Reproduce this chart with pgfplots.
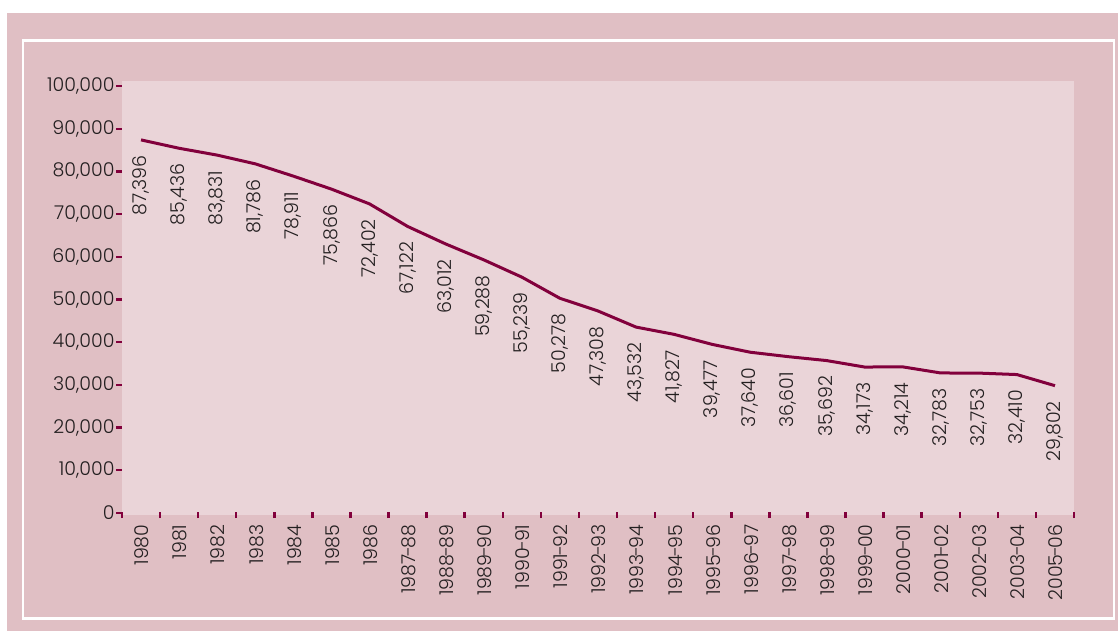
\documentclass[border=0pt]{standalone}
\usepackage{fontspec}
\setmainfont{Poppins}[UprightFont=* Light]
\usepackage{pgfplots}
\pgfplotsset{compat=1.18}
\definecolor{outerpink}{RGB}{224,191,196}
\definecolor{plotpink}{RGB}{234,212,216}
\definecolor{maroonc}{RGB}{130,0,60}
\definecolor{txt}{RGB}{35,31,32}
\newcommand{\fs}{\fontsize{19}{22}\selectfont}
\newcommand{\h}{\kern-1.8pt-\kern-1.8pt}
\begin{document}
\begin{tikzpicture}[x=1pt,y=1pt]
\fill[white] (0,0) rectangle (1118,-631);
\fill[outerpink] (7,-13) rectangle (1118,-631);
\draw[white, line width=2.5pt] (23,-40.5) rectangle (1114,-618.5);
\begin{axis}[
  at={(122pt,-515pt)}, anchor=south west,
  scale only axis, width=952pt, height=434pt,
  xmin=-0.5, xmax=24.5, ymin=-500, ymax=101200,
  clip=false,
  axis line style={draw=none},
  axis background/.style={fill=plotpink},
  tick pos=left,
  tick align=outside, major tick length=6pt,
  tick style={maroonc, line width=2.5pt},
  xtick style={yshift=3pt},
  xtick={-0.5,0.5,...,24.5},
  x tick label as interval,
  xticklabels={1980,1981,1982,1983,1984,1985,1986,{1987\h88},{1988\h89},{1989\h90},{1990\h91},{1991\h92},{1992\h93},{1993\h94},{1994\h95},{1995\h96},{1996\h97},{1997\h98},{1998\h99},{1999\h00},{2000\h01},{2001\h02},{2002\h03},{2003\h04},{2005\h06}},
  xticklabel style={rotate=90, anchor=east, font=\fs, text=txt, yshift=-1pt},
  ytick={0,10000,...,100000},
  yticklabels={0,{10,000},{20,000},{30,000},{40,000},{50,000},{60,000},{70,000},{80,000},{90,000},{100,000}},
  scaled y ticks=false,
  yticklabel style={font=\fs, text=txt, xshift=2pt},
]
\addplot[maroonc, line width=3pt, line join=round, mark=none,
  nodes near coords,
  point meta=explicit symbolic,
  every node near coord/.append style={rotate=90, anchor=east, inner xsep=14pt, font=\fs, text=txt}]
coordinates {
(0,87396) [87,396] (1,85436) [85,436] (2,83831) [83,831] (3,81786) [81,786]
(4,78911) [78,911] (5,75866) [75,866] (6,72402) [72,402]
(7,67122) [67,122] (8,63012) [63,012] (9,59288) [59,288] (10,55239) [55,239]
(11,50278) [50,278] (12,47308) [47,308] (13,43532) [43,532]
(14,41827) [41,827] (15,39477) [39,477] (16,37640) [37,640] (17,36601) [36,601]
(18,35692) [35,692] (19,34173) [34,173] (20,34214) [34,214]
(21,32783) [32,783] (22,32753) [32,753] (23,32410) [32,410] (24,29802) [29,802]
};
\end{axis}
\end{tikzpicture}
\end{document}
